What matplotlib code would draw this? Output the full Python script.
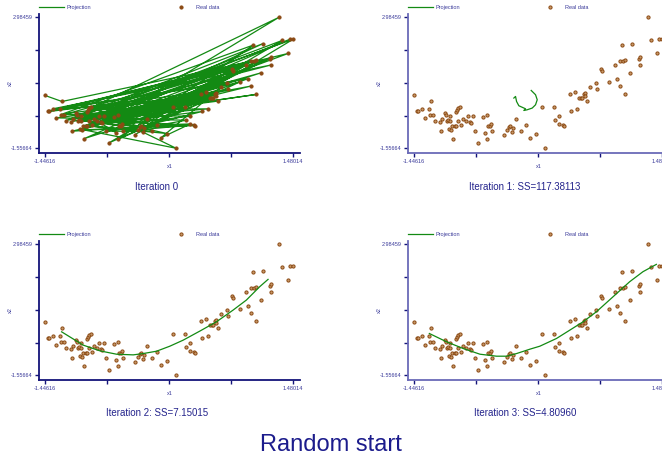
import numpy as np
import matplotlib
matplotlib.use("Agg")
from matplotlib import pyplot as plt

plt.rcParams["font.family"] = ["Liberation Sans", "DejaVu Sans"]

# real data (x1, x2)
x1 = np.array([-1.44616, -1.415, -1.395, -1.356, -1.317, -1.273, -1.246, -1.258, -1.218, -1.199,
               -1.128, -1.136, -1.116, -1.081, -1.065, -1.053, -1.042, -1.022, -1.030, -1.010,
               -1.022, -0.994, -0.967, -0.951, -0.983, -0.947, -0.936, -0.924, -0.908, -0.924,
               -0.888, -0.865, -0.837, -0.806, -0.790, -0.774, -0.747, -0.727, -0.692, -0.633,
               -0.613, -0.590, -0.582, -0.570, -0.554, -0.543, -0.523, -0.382, -0.346, -0.327,
               -0.311, -0.295, -0.280, -0.244, -0.189, -0.122, -0.079, -0.005, 0.066, 0.101,
               0.204, 0.223, 0.270, 0.270, 0.314, 0.329, 0.396, 0.408, 0.455, 0.479,
               0.498, 0.526, 0.541, 0.565, 0.577, 0.569, 0.592, 0.636, 0.702, 0.718,
               0.761, 0.777, 0.856, 0.926, 0.946, 0.981, 0.989, 1.021, 1.048, 1.013,
               1.044, 1.107, 1.123, 1.205, 1.221, 1.217, 1.315, 1.355, 1.425, 1.441, 1.48014])
x2 = np.array([0.274, -0.271, -0.282, -0.190, -0.503, -0.201, 0.065, -0.387, -0.387, -0.595,
               -0.966, -0.630, -0.549, -0.340, -0.398, -0.618, -0.584, -0.618, -0.896, -0.920,
               -0.421, -0.769, -0.769, -0.769, -1.221, -0.294, -0.225, -0.178, -0.120, -0.595,
               -0.746, -0.549, -0.595, -0.445, -0.630, -0.665, -0.445, -0.966, -1.371, -0.479,
               -1.012, -0.398, -1.244, -0.781, -0.769, -0.723, -0.966, -1.082, -0.920, -0.827,
               -0.781, -0.989, -0.850, -0.537, -0.966, -0.746, -1.198, -1.047, -0.109, -1.55664,
               -0.143, -0.584, -0.445, -0.711, -0.746, -0.769, 0.309, -0.282, 0.401, -0.190,
               0.169, 0.181, 0.169, 0.320, 0.355, 0.239, 0.077, 0.575, 0.691, 0.482,
               1.200, 1.119, 0.749, 1.328, 0.853, 0.598, 1.479, 1.479, 1.490, 2.023,
               0.309, 1.062, 2.069, 1.548, 1.594, 1.328, 2.98459, 2.185, 1.733, 2.220, 2.220])

# iteration 0: random start, projection runs through the points in this order
start_order = [0, 6, 88, 14, 95, 3, 78, 22, 92, 9, 85, 30, 99, 17, 81, 41, 96, 27, 74, 11,
               90, 36, 68, 2, 83, 47, 100, 20, 76, 33, 87, 8, 62, 45, 93, 25, 79, 12, 97, 38,
               70, 5, 86, 50, 65, 19, 91, 29, 73, 44, 84, 1, 98, 35, 60, 15, 80, 53, 94, 24,
               71, 42, 89, 7, 66, 31, 82, 48, 59, 18, 77, 56, 63, 10, 75, 39, 69, 26, 58, 52,
               61, 4, 72, 34, 64, 46, 67, 21, 57, 13, 55, 37, 54, 23, 51, 28, 49, 16, 43, 32, 40]

# iteration 1 curve
it1_x = [-0.063, -0.012, 0.008, -0.012, -0.051, -0.110, -0.150, -0.130, -0.209, -0.236, -0.248, -0.268]
it1_y = [0.448, 0.299, 0.125, -0.049, -0.163, -0.222, -0.247, -0.188, -0.083, 0.066, 0.240, 0.184]

# iteration 2 curve
it2_x = [-1.250, -0.994, -0.798, -0.602, -0.405, -0.287, -0.130, 0.027, 0.184, 0.380, 0.577, 0.773, 0.930, 1.087, 1.186]
it2_y = [-0.051, -0.514, -0.711, -0.827, -0.850, -0.804, -0.723, -0.549, -0.340, -0.027, 0.297, 0.702, 1.050, 1.513, 1.768]

# iteration 3 curve
it3_x = [-1.265, -1.061, -0.865, -0.668, -0.472, -0.354, -0.236, -0.079, 0.039, 0.235, 0.392, 0.549,
         0.706, 0.903, 1.099, 1.256, 1.414]
it3_y = [-0.109, -0.398, -0.630, -0.827, -0.896, -0.896, -0.804, -0.653, -0.549, -0.282, 0.007, 0.297,
         0.644, 1.166, 1.687, 2.035, 2.289]

titles = ["Iteration 0", "Iteration 1: SS=117.38113", "Iteration 2: SS=7.15015", "Iteration 3: SS=4.80960"]

line_c = "#138a13"
pt_edge = "#8b4a14"
pt_face = "#c89868"
txt_c = "#3a3a9a"
navy = "#14147a"

fig = plt.figure(figsize=(6.62, 4.61), dpi=100)
W, H = 662.0, 461.0

# axes boxes in pixels: left, bottom (from top); all 261 x 139
boxes = [(39, 153), (408, 153), (39, 380), (408, 380)]
title_pos = [(157, 187), (525, 187), (157, 413), (525, 413)]
curves = [(x1[start_order], x2[start_order]), (it1_x, it1_y), (it2_x, it2_y), (it3_x, it3_y)]

xmin, xmax = x1.min(), x1.max()
ymin, ymax = x2.min(), x2.max()

for i, (bx, by) in enumerate(boxes):
    ax = fig.add_axes([bx / W, 1 - by / H, 261 / W, 139 / H])
    cx, cy = curves[i]
    ax.plot(x1, x2, "o", ms=2.3, mec=pt_edge, mfc=pt_face if i else pt_edge, mew=0.7,
            label="Real data", zorder=2)
    ax.plot(cx, cy, color=line_c, lw=0.9, label="Projection", zorder=3 if i else 1)
    ax.set_xlim(xmin - 0.071, xmax + 0.083)
    ax.set_ylim(ymin - 0.165, ymax + 0.115)
    ax.set_xticks(np.linspace(xmin, xmax, 5))
    ax.set_xticklabels(["-1.44616", "", "", "", "1.48014"])
    ax.set_yticks(np.linspace(ymin, ymax, 5))
    ax.set_yticklabels(["-1.55664", "", "", "", "2.98459"])
    sp_c = navy if i % 2 == 0 else "#6a6ab8"
    for s in ["top", "right"]:
        ax.spines[s].set_visible(False)
    for s in ["left", "bottom"]:
        ax.spines[s].set_color(sp_c)
        ax.spines[s].set_linewidth(1.3)
    ax.tick_params(length=3, width=1, color=navy, labelsize=4, labelcolor=txt_c, pad=1.5)
    ax.set_xlabel("x1", fontsize=4, color=txt_c)
    ax.set_ylabel("x2", fontsize=4, color=txt_c)
    ax.xaxis.set_label_coords(0.5, -0.08)
    ax.yaxis.set_label_coords(-0.1, 0.5)
    handles, labels = ax.get_legend_handles_labels()
    ax.legend(handles[::-1], labels[::-1], ncol=2, loc="lower left", bbox_to_anchor=(0.0, 1.03),
              frameon=False, fontsize=4, handlelength=4.5, handletextpad=0.4, columnspacing=14,
              borderpad=0, borderaxespad=0, labelcolor=txt_c)
    tx, ty = title_pos[i]
    fig.text(tx / W, 1 - ty / H, titles[i], ha="center", va="center", fontsize=7, color="#24248c")

fig.text(331 / W, 1 - 445 / H, "Random start", ha="center", va="center", fontsize=17, color="#1c1c8c")

fig.savefig("out.png", dpi=100)
